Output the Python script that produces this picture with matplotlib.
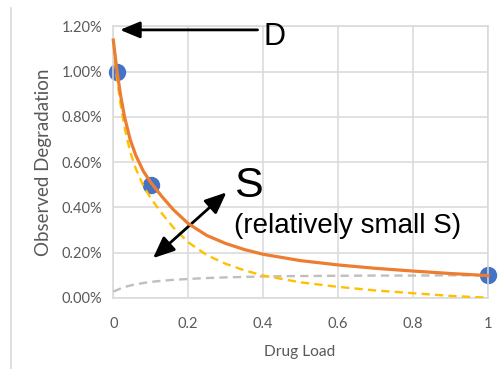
import matplotlib
matplotlib.use("Agg")
import matplotlib.pyplot as plt
from matplotlib.lines import Line2D

# ---- data (values in percent) ----
drug_load = [0, 0.01, 0.02, 0.03, 0.045, 0.06, 0.08, 0.1, 0.13, 0.16, 0.2,
             0.25, 0.3, 0.35, 0.4, 0.5, 0.6, 0.7, 0.8, 0.9, 1.0]
total_fit = [1.14, 1.00, 0.89, 0.80, 0.70, 0.63, 0.56, 0.51, 0.447, 0.39, 0.328,
             0.275, 0.24, 0.213, 0.192, 0.164, 0.145, 0.13, 0.118, 0.107, 0.098]
d_component = [1.11, 0.966, 0.849, 0.753, 0.646, 0.571, 0.495, 0.44, 0.372, 0.311, 0.245,
               0.188, 0.150, 0.121, 0.098, 0.068, 0.048, 0.032, 0.02, 0.008, 0.0]
s_component = [0.027, 0.034, 0.041, 0.047, 0.054, 0.059, 0.065, 0.070, 0.075, 0.079, 0.083,
               0.087, 0.090, 0.092, 0.094, 0.096, 0.097, 0.098, 0.098, 0.099, 0.099]
obs_x = [0.01, 0.1, 1.0]
obs_y = [1.0, 0.5, 0.1]

x_ticks = [0, 0.2, 0.4, 0.6, 0.8, 1.0]
x_tick_labels = ["0", "0.2", "0.4", "0.6", "0.8", "1"]
y_ticks = [0, 0.2, 0.4, 0.6, 0.8, 1.0, 1.2]
y_tick_labels = ["0.00%", "0.20%", "0.40%", "0.60%", "0.80%", "1.00%", "1.20%"]

GRID = "#D9D9D9"
TXT = "#595959"

fig = plt.figure(figsize=(5.0, 3.69), dpi=100)
ax = fig.add_axes([0.2266, 0.1932, 0.7494, 0.7350])

ax.plot(obs_x, obs_y, "o", color="#4472C4", markersize=11.5, zorder=2, clip_on=False)
ax.plot(drug_load, s_component, color="#BFBFBF", lw=1.7, ls=(0, (3.5, 2.2)), zorder=3)
ax.plot(drug_load, d_component, color="#FFC000", lw=1.7, ls=(0, (3.5, 2.2)), zorder=3)
ax.plot(drug_load, total_fit, color="#ED7D31", lw=2.3, zorder=4, clip_on=False,
        solid_joinstyle="round")

ax.set_xlim(0, 1)
ax.set_ylim(0, 1.2)
ax.set_xticks(x_ticks)
ax.set_xticklabels(x_tick_labels)
ax.set_yticks(y_ticks)
ax.set_yticklabels(y_tick_labels)
ax.grid(True, color=GRID, lw=1.1)
ax.set_axisbelow(True)
for s in ax.spines.values():
    s.set_color(GRID)
    s.set_linewidth(1.1)
ax.tick_params(length=0, colors=TXT, labelsize=10.5)
ax.tick_params(axis="x", pad=14)
ax.tick_params(axis="y", pad=8)
for lab in ax.get_xticklabels() + ax.get_yticklabels():
    lab.set_family("Lato")

fig.text(300 / 500, 1 - 352 / 369, "Drug Load", family="Lato", fontsize=11.2,
         color=TXT, ha="center", va="center")
fig.text(44 / 500, 1 - 162.5 / 369, "Observed Degradation", family="Lato",
         fontsize=13.5, color=TXT, ha="center", va="center", rotation=90)

# annotations
ax.annotate("", xy=(0.018, 1.185), xytext=(0.385, 1.185),
            arrowprops=dict(arrowstyle="-|>,head_length=0.6,head_width=0.25",
                            mutation_scale=20, lw=2, color="black",
                            shrinkA=0, shrinkB=0),
            annotation_clip=False)
ax.text(0.400, 1.119, "D", family="Liberation Sans", fontsize=22, color="black",
        ha="left", va="baseline", clip_on=False)
ax.annotate("", xy=(0.106, 0.175), xytext=(0.302, 0.466),
            arrowprops=dict(arrowstyle="<|-|>,head_length=0.65,head_width=0.28",
                            mutation_scale=20, lw=2, color="black",
                            shrinkA=0, shrinkB=0))
ax.text(0.322, 0.4476, "S", family="Liberation Sans", fontsize=31, color="black",
        ha="left", va="baseline")
ax.text(0.322, 0.2876, "(relatively small S)", family="Liberation Sans", fontsize=20,
        color="black", ha="left", va="baseline")

# chart border on the far left
fig.add_artist(Line2D([11 / 500, 11 / 500], [0, 1 - 8 / 369], transform=fig.transFigure,
                      color=GRID, lw=1.2))

fig.savefig("out.png", dpi=100)
